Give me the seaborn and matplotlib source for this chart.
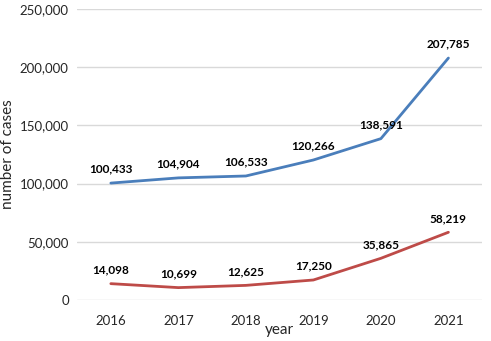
import pandas as pd
import matplotlib
matplotlib.use('Agg')
import matplotlib.pyplot as plt
import seaborn as sns

years = ['2016', '2017', '2018', '2019', '2020', '2021']
series_a = [100433, 104904, 106533, 120266, 138591, 207785]
series_b = [14098, 10699, 12625, 17250, 35865, 58219]
colors = {'a': '#4A7EBB', 'b': '#BE4B48'}

df = pd.DataFrame({
    'year': years * 2,
    'cases': series_a + series_b,
    'series': ['a'] * len(years) + ['b'] * len(years),
})

sns.set_style('white')
plt.rcParams['font.family'] = ['Lato', 'DejaVu Sans']

fig = plt.figure(figsize=(4.91, 3.41), dpi=100)
ax = fig.add_axes([0.157, 0.12, 0.825, 0.854])

sns.lineplot(data=df, x='year', y='cases', hue='series', palette=colors,
             linewidth=2, legend=False, ax=ax, sort=False)

# value labels just above each point
for vals in (series_a, series_b):
    for i, v in enumerate(vals):
        ax.annotate(f'{v:,}', (i, v), xytext=(0, 6), textcoords='offset points',
                    ha='center', va='bottom', fontsize=8.5, fontweight='bold', color='black')

ax.set_xlim(-0.5, len(years) - 0.5)
ax.set_ylim(0, 250000)
ax.set_yticks(range(0, 250001, 50000))
ax.yaxis.set_major_formatter(matplotlib.ticker.FuncFormatter(lambda v, p: f'{int(v):,}'))
ax.grid(axis='y', color='#D9D9D9', linewidth=1)
ax.grid(axis='x', visible=False)
for s in ax.spines.values():
    s.set_visible(False)
ax.tick_params(axis='both', labelsize=9.5, length=0, pad=6)
ax.tick_params(axis='x', pad=11)
ax.set_xlabel('year', fontsize=11, labelpad=-3)
ax.set_ylabel('number of cases', fontsize=11, labelpad=3)

fig.savefig('out.png', dpi=100)
